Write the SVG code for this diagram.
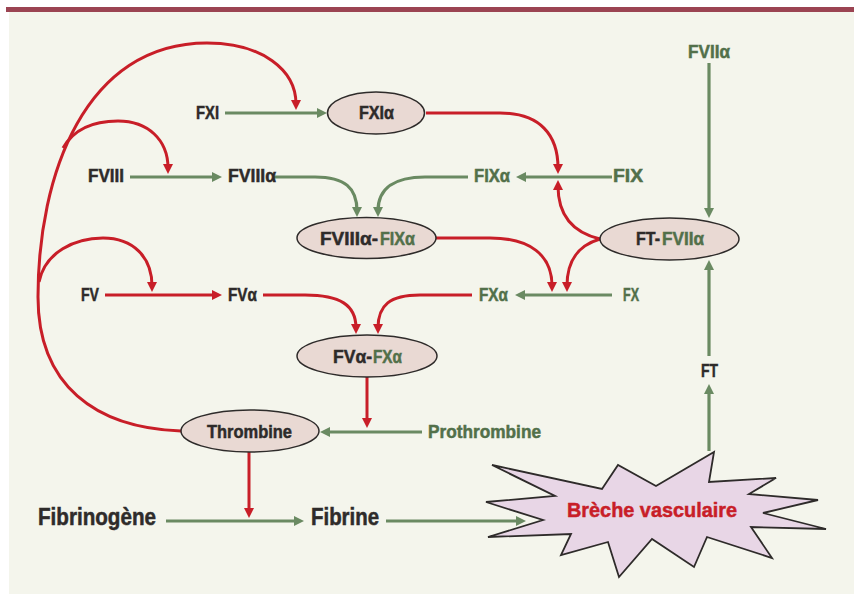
<svg xmlns="http://www.w3.org/2000/svg" width="854" height="594" viewBox="0 0 854 594">
<defs>
<style>
.t{font-family:"Liberation Sans",Arial,sans-serif;font-weight:bold;font-size:19px;fill:#2e2b2a;stroke:#2e2b2a;stroke-width:0.5}
.g{fill:#52704a;stroke:#52704a}
.r{fill:#c81e28;stroke:#c81e28}
.big{font-size:23px}
.node{fill:#e9d9d3;stroke:#2e2b2a;stroke-width:1.5}
.cg{fill:none;stroke:#6a8a62;stroke-width:3.2}
.cr{fill:none;stroke:#c81e28;stroke-width:3}
</style>
<marker id="ag" markerUnits="userSpaceOnUse" markerWidth="12" markerHeight="11" refX="4" refY="5" orient="auto" viewBox="0 0 12 11">
<path d="M0,0 L10,5 L0,10 z" fill="#6a8a62"/>
</marker>
<marker id="ar" markerUnits="userSpaceOnUse" markerWidth="12" markerHeight="11" refX="4" refY="5" orient="auto" viewBox="0 0 12 11">
<path d="M0,0 L10,5 L0,10 z" fill="#c81e28"/>
</marker>
</defs>
<rect x="0" y="0" width="854" height="594" fill="#ffffff"/>
<rect x="9" y="12" width="845" height="582" fill="#f4f5ec"/>
<rect x="6" y="7" width="848" height="5" fill="#9b4452"/>

<g id="connectors">
<path class="cg" marker-end="url(#ag)" d="M225,113 L321,113"/>
<path class="cr" marker-end="url(#ar)" d="M181,431 C95,428 38,385 38,297 C38,175 85,43 207,43 C262,43 296,70 296,104"/>
<path class="cr" marker-end="url(#ar)" d="M63,148 C75,127 97,121 118,121 C148,121 168,140 168,168"/>
<path class="cr" marker-end="url(#ar)" d="M39,282 C45,252 75,238 103,238 C133,238 152,257 152,286"/>
<path class="cg" marker-end="url(#ag)" d="M130,177 L216,177"/>
<path class="cr" marker-end="url(#ar)" d="M105,295 L216,295"/>
<path class="cr" marker-end="url(#ar)" d="M263,295 L305,295 C340,295 356,305 356,328"/>
<path class="cr" marker-end="url(#ar)" d="M472,295 L420,295 C390,295 378,305 378,328"/>
<path class="cg" marker-end="url(#ag)" d="M612,295 L521,295"/>
<path class="cg" marker-end="url(#ag)" d="M612,177 L522,177"/>
<path class="cg" marker-end="url(#ag)" d="M468,177 L425,177 C395,177 378,188 378,211"/>
<path class="cg" marker-end="url(#ag)" d="M273,177 L315,177 C345,177 357,188 357,211"/>
<path class="cr" marker-end="url(#ar)" d="M426,113 L500,113 C540,113 558,135 558,168"/>
<path class="cr" marker-end="url(#ar)" d="M600,239 C575,233 558,218 558,186"/>
<path class="cr" marker-end="url(#ar)" d="M600,239 C580,245 567,258 567,286"/>
<path class="cr" marker-end="url(#ar)" d="M436,238 L490,238 C530,238 552,255 552,286"/>
<path class="cg" marker-end="url(#ag)" d="M709,63 L709,212"/>
<path class="cg" marker-end="url(#ag)" d="M709,356 L709,266"/>
<path class="cg" marker-end="url(#ag)" d="M709,451 L709,390"/>
<path class="cr" marker-end="url(#ar)" d="M367,377 L367,422"/>
<path class="cg" marker-end="url(#ag)" d="M422,432 L326,432"/>
<path class="cr" marker-end="url(#ar)" d="M249,452 L249,512"/>
<path class="cg" marker-end="url(#ag)" d="M166,521 L298,521"/>
<path class="cg" marker-end="url(#ag)" d="M386,521 L520,521"/>
</g>

<g id="FXI"><text class="t" x="196" y="119" textLength="23" lengthAdjust="spacingAndGlyphs">FXI</text></g>
<g id="FVIII"><text class="t" x="88" y="182" textLength="36" lengthAdjust="spacingAndGlyphs">FVIII</text></g>
<g id="FVIIIa"><text class="t" x="228" y="182" textLength="48" lengthAdjust="spacingAndGlyphs">FVIIIα</text></g>
<g id="FXIa"><ellipse class="node" cx="376" cy="113" rx="48.5" ry="21"/><text class="t" x="359" y="119" textLength="35" lengthAdjust="spacingAndGlyphs">FXIα</text></g>
<g id="FIXa"><text class="t g" x="474" y="182" textLength="36" lengthAdjust="spacingAndGlyphs">FIXα</text></g>
<g id="FIX"><text class="t g" x="613" y="182" textLength="30" lengthAdjust="spacingAndGlyphs">FIX</text></g>
<g id="FVIIa"><text class="t g" x="688" y="58" textLength="42" lengthAdjust="spacingAndGlyphs">FVIIα</text></g>
<g id="FT-FVIIa"><ellipse class="node" cx="669.5" cy="239" rx="69.5" ry="21"/><text class="t" x="636" y="245" textLength="24" lengthAdjust="spacingAndGlyphs">FT-</text><text class="t g" x="662" y="245" textLength="42" lengthAdjust="spacingAndGlyphs">FVIIα</text></g>
<g id="FVIIIa-FIXa"><ellipse class="node" cx="366.5" cy="238" rx="69.5" ry="20.5"/><text class="t" x="320" y="245" textLength="58" lengthAdjust="spacingAndGlyphs">FVIIIα-</text><text class="t g" x="380" y="245" textLength="35" lengthAdjust="spacingAndGlyphs">FIXα</text></g>
<g id="FV"><text class="t" x="81" y="301" textLength="18" lengthAdjust="spacingAndGlyphs">FV</text></g>
<g id="FVa"><text class="t" x="228" y="301" textLength="29" lengthAdjust="spacingAndGlyphs">FVα</text></g>
<g id="FXa"><text class="t g" x="479" y="301" textLength="29" lengthAdjust="spacingAndGlyphs">FXα</text></g>
<g id="FX"><text class="t g" x="623" y="301" textLength="16" lengthAdjust="spacingAndGlyphs">FX</text></g>
<g id="FVa-FXa"><ellipse class="node" cx="367" cy="356" rx="70" ry="21"/><text class="t" x="333" y="363" textLength="39" lengthAdjust="spacingAndGlyphs">FVα-</text><text class="t g" x="373" y="363" textLength="29" lengthAdjust="spacingAndGlyphs">FXα</text></g>
<g id="Thrombine"><ellipse class="node" cx="250" cy="431" rx="69" ry="21"/><text class="t" x="207" y="438" textLength="85" lengthAdjust="spacingAndGlyphs">Thrombine</text></g>
<g id="Prothrombine"><text class="t g" x="428" y="438" textLength="113" lengthAdjust="spacingAndGlyphs">Prothrombine</text></g>
<g id="FT"><text class="t" x="701" y="377" textLength="17" lengthAdjust="spacingAndGlyphs">FT</text></g>
<g id="Fibrinogene"><text class="t big" x="38" y="525" textLength="118" lengthAdjust="spacingAndGlyphs">Fibrinogène</text></g>
<g id="Fibrine"><text class="t big" x="311" y="525" textLength="68" lengthAdjust="spacingAndGlyphs">Fibrine</text></g>
<g id="Breche">
<polygon points="492,465 602,489 618,465 656,486 714,452 709,482 776,478 749,494 818,500 763,513 826,529 751,527 772,558 707,537 694,567 652,539 619,577 608,542 561,555 571,534 488,537 543,520 486,502 555,496" fill="#e8d6e6" stroke="#2e2b2a" stroke-width="1.8" stroke-linejoin="miter"/>
<text class="t r" x="567" y="517" style="font-size:21px" textLength="170" lengthAdjust="spacingAndGlyphs">Brèche vasculaire</text>
</g>
</svg>
